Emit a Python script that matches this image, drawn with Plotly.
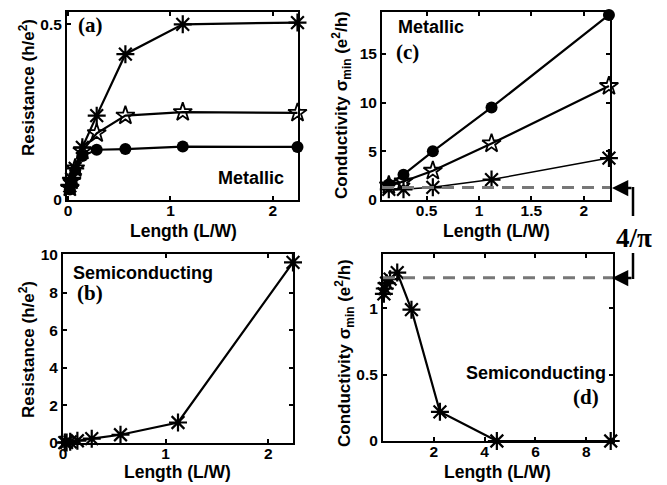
import numpy as np
import plotly.graph_objects as go

# ---------------- data ----------------
L_ab = [0.0175, 0.035, 0.07, 0.14, 0.28, 0.56, 1.12, 2.24]
R_a_asterisk = [0.04, 0.06, 0.09, 0.15, 0.24, 0.415, 0.50, 0.505]
R_a_star = [0.035, 0.055, 0.09, 0.14, 0.19, 0.24, 0.25, 0.248]
R_a_circle = [0.03, 0.05, 0.085, 0.125, 0.143, 0.145, 0.152, 0.151]
R_b = [0.02, 0.03, 0.06, 0.12, 0.23, 0.44, 1.09, 9.6]

L_c = [0.07, 0.14, 0.28, 0.56, 1.12, 2.24]
S_c_circle = [1.3, 1.6, 2.6, 5.0, 9.5, 19.0]
S_c_star = [1.2, 1.5, 1.9, 3.0, 5.8, 11.7]
S_c_asterisk = [1.2, 1.1, 1.1, 1.3, 2.1, 4.3]

L_d = [0.035, 0.07, 0.14, 0.28, 0.56, 1.12, 2.24, 4.48, 8.96]
S_d = [1.11, 1.15, 1.19, 1.22, 1.27, 0.99, 0.22, 0.0, 0.0]

LIMIT_C = 4 / np.pi      # dashed reference line in (c)
LIMIT_D = 1.23           # dashed reference line in (d), as drawn

X_TITLE = "Length (L/W)"
R_TITLE = "Resistance (h/e<sup>2</sup>)"
S_TITLE = "Conductivity σ<sub>min</sub> (e<sup>2</sup>/h)"

W, H = 667, 485


def px(x0, x1):
    return [x0 / W, x1 / W]


def py(y_top, y_bot):
    return [1 - y_bot / H, 1 - y_top / H]


SANS = "Liberation Sans"
SERIF = "Liberation Serif"
tickfont = dict(family=SANS, size=15.5, color="black", weight="bold")


def ax(domain, rng, tickvals, anchor, is_x):
    d = dict(
        domain=domain, range=rng, tickvals=tickvals, anchor=anchor,
        showline=True, linecolor="black", linewidth=2, mirror="ticks",
        ticks="inside", ticklen=4, tickwidth=1.5, tickcolor="black",
        showgrid=False, zeroline=False, tickfont=tickfont,
        automargin=False,
    )
    if is_x:
        d["ticklabelstandoff"] = -5
    return d


fig = go.Figure()


def add(x, y, xa, ya, symbol, size, lw=2.2, mlw=2.2):
    filled = symbol == "circle"
    fig.add_trace(go.Scatter(
        x=x, y=y, xaxis=xa, yaxis=ya, mode="lines+markers",
        line=dict(color="black", width=lw),
        marker=dict(symbol=symbol, size=size, color="black",
                    line=dict(color="black", width=0 if filled else mlw)),
        cliponaxis=False, showlegend=False, hoverinfo="skip",
    ))


# (a)
add(L_ab, R_a_asterisk, "x", "y", "asterisk-open", 15)
add(L_ab, R_a_star, "x", "y", "star-open", 14, mlw=1.8)
add(L_ab, R_a_circle, "x", "y", "circle", 12)
# (c)
add(L_c, S_c_circle, "x2", "y2", "circle", 12)
add(L_c, S_c_star, "x2", "y2", "star-open", 14, mlw=1.8)
add(L_c, S_c_asterisk, "x2", "y2", "asterisk-open", 15, lw=1.5)
# (b)
add(L_ab, R_b, "x3", "y3", "asterisk-open", 15)
# (d)
add(L_d, S_d, "x4", "y4", "asterisk-open", 15)

fig.update_layout(
    width=W, height=H, margin=dict(l=0, r=0, t=0, b=0),
    paper_bgcolor="white", plot_bgcolor="white",
    xaxis=ax(px(67, 298), [-0.01, 2.245], [0, 1, 2], "y", True),
    yaxis=ax(py(12, 200), [0, 0.535], [0, 0.5], "x", False),
    xaxis2=ax(px(382, 610), [0.075, 2.25], [0.5, 1, 1.5, 2], "y2", True),
    yaxis2=ax(py(12, 200), [0, 19.3], [0, 5, 10, 15], "x2", False),
    xaxis3=ax(px(63, 293), [0, 2.24], [0, 1, 2], "y3", True),
    yaxis3=ax(py(254, 443), [0, 10.05], [0, 2, 4, 6, 8, 10], "x3", False),
    xaxis4=ax(px(383, 613), [0, 9.05], [2, 4, 6, 8], "y4", True),
    yaxis4=ax(py(254, 441), [0, 1.41], [0, 0.5, 1], "x4", False),
)

# dashed reference lines
dash = "12px,8px"
fig.add_shape(type="line", xref="x2 domain", yref="y2", x0=0, x1=1, y0=LIMIT_C, y1=LIMIT_C,
              line=dict(color="#777777", width=3, dash=dash))
fig.add_shape(type="line", xref="x4 domain", yref="y4", x0=0, x1=1, y0=LIMIT_D, y1=LIMIT_D,
              line=dict(color="#777777", width=3, dash=dash))


def P(x, y):
    return x / W, 1 - y / H


# bracket lines to the 4/pi label
for (x0, y0, x1, y1) in [(633, 187, 633, 216), (633, 253, 633, 279)]:
    a0 = P(x0, y0)
    a1 = P(x1, y1)
    fig.add_shape(type="line", xref="paper", yref="paper", x0=a0[0], y0=a0[1], x1=a1[0], y1=a1[1],
                  line=dict(color="black", width=2.5))

for ytip in [188, 278]:
    tx, ty = P(612, ytip)
    fig.add_annotation(x=tx, y=ty, xref="paper", yref="paper", ax=21, ay=0,
                       showarrow=True, arrowhead=2, arrowsize=1.3, arrowwidth=2.5,
                       arrowcolor="black", text="")


def label(text, x, y, family, size, weight="bold", angle=0):
    lx, ly = P(x, y)
    fig.add_annotation(x=lx, y=ly, xref="paper", yref="paper", text=text, showarrow=False,
                       xanchor="center", yanchor="middle", textangle=angle,
                       font=dict(family=family, size=size, color="black", weight=weight))


# axis titles
label(X_TITLE, 183, 231, SANS, 17.5)
label(X_TITLE, 496, 231, SANS, 17.5)
label(X_TITLE, 177, 472, SANS, 17.5)
label(X_TITLE, 497, 472, SANS, 17.5)
label(R_TITLE, 27, 88, SANS, 17, angle=-90)
label(R_TITLE, 27, 350, SANS, 17, angle=-90)
label(S_TITLE, 341, 105, SANS, 17, angle=-90)
label(S_TITLE, 344, 353, SANS, 17, angle=-90)

# panel texts
label("(a)", 90, 25, SERIF, 21)
label("Metallic", 251, 178, SANS, 18)
label("Metallic", 431, 27, SANS, 18)
label("(c)", 407, 52, SERIF, 21)
label("Semiconducting", 143, 273, SANS, 18)
label("(b)", 90, 293, SERIF, 21)
label("Semiconducting", 536, 373, SANS, 18)
label("(d)", 586, 397, SERIF, 21)
label("4/π", 634, 238, SERIF, 27)

fig.write_html("out.html", config={"displayModeBar": False},
               post_script="document.body.style.margin='0px';")
